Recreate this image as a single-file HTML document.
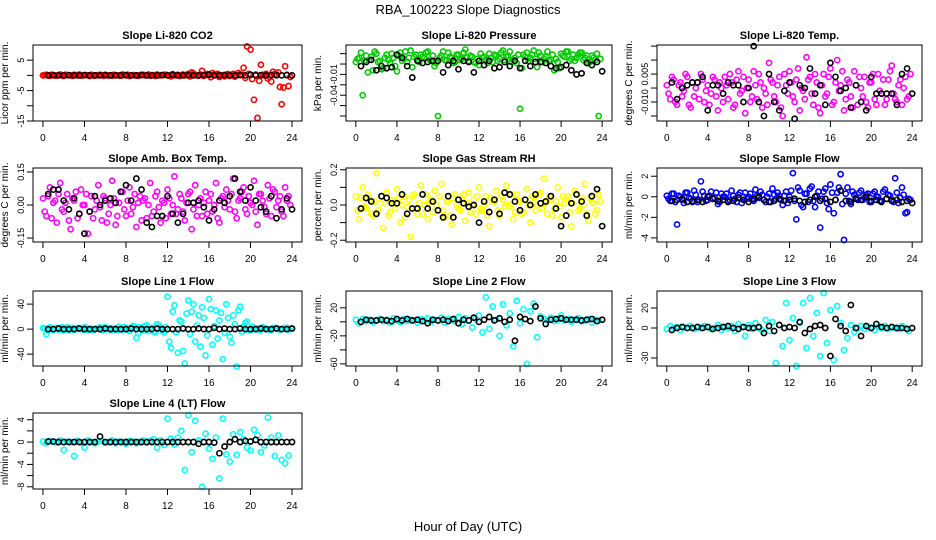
<!DOCTYPE html>
<html><head><meta charset="utf-8"><style>
html,body{margin:0;padding:0;background:#fff}
svg{display:block;font-family:"Liberation Sans",Arial,sans-serif}
</style></head><body>
<svg id="chart" width="936" height="540" viewBox="0 0 936 540" xmlns="http://www.w3.org/2000/svg">
<text x="468" y="14" text-anchor="middle" font-size="13">RBA_100223  Slope Diagnostics</text>
<text x="468" y="531" text-anchor="middle" font-size="13">Hour of Day (UTC)</text>
</svg>
<script>
const xTicks = [0,4,8,12,16,20,24];

const co2Color = [0,0.2,-0.1,0.1,0,0.3,-0.2,0.1,0,0.2,0,-0.1,0.1,0,0.2,-0.1,0,0.1,0.2,0,-0.1,0.1,0,0.3,0,-0.2,0.1,0,0.1,0.2,0,-0.1,0.1,0.3,0,0.2,0.1,-0.3,0,0.2,0.1,0,0.5,1,0.2,-0.1,1.5,0.3,0,0.8,0.2,-0.5,0.1,0.3,-0.2,0.5,0,0.3,2.5,9.5,8.5,-8,-14,3.5,0,-1,-2,0.5,1,-9.5,3,-3.5];
const co2Color2 = [0.1,0,0.2,-0.1,0.1,0,0.2,0,-0.1,0.1,0.3,0,0.1,-0.2,0,0.1,0.2,-0.1,0,0.1,0.2,0,-0.1,0.1,0.2,0,0.1,-0.1,0.2,0,0.3,0.1,-0.2,0,0.1,0.2,-0.1,0.4,0,-0.2,0.3,0.1,-0.3,0.6,0,0.3,-0.2,0.4,-0.6,0.2,0.5,0,-0.3,0.4,0.1,-0.4,0.8,0.2,-0.8,0.5,-1.2,0.3,-1.8,0.2,0.5,-0.5,1.2,0.3,-3.8,-4,0.2,-0.5];
const co2Black = [0,0.1,0,0,0.1,0,0,0.1,0,0,0,0.1,0,0,0,0.1,0,0,0.1,0,0,0,0.1,0,0.2,0,0,0.1,0,0,0.1,0.3,0,0,0.1,0,0,0.1,0,0.2,0,0.1,0,0.1,0,0,0.1,0];

const presColor = [0.002,0.006,-0.03,0.008,0.004,-0.006,0.01,0.003,-0.004,0.009,0.001,0.006,-0.007,0.011,0.005,0.002,0.013,0.007,0.004,0.009,0.006,0.012,0.003,-0.002,-0.05,0.008,0.004,0.011,0.006,0.002,0.009,0.005,0.014,0.003,0.007,0.001,-0.001,0.006,0.004,0.01,0.002,0.008,0.005,0.013,0.007,0.012,0.004,0.001,-0.043,0.009,0.011,0.006,0.013,-0.003,0.008,0.005,0.012,0.004,-0.006,0.002,0.01,0.007,0.012,0.005,0.003,0.009,0.011,0.006,0.001,0.008,0.004,-0.05];
const presColor2 = [0.005,0.011,0.003,-0.008,0.007,0.012,0.002,-0.005,0.006,0.004,0.01,-0.002,0.008,0.003,0.012,0.006,-0.003,0.009,0.002,0.007,0.011,0.004,0.008,0.001,0.006,0.012,0.003,0.007,0.001,0.009,0.004,0.011,0.006,0.008,0.002,0.005,0.01,0.007,0.001,0.006,0.009,0.003,0.011,0.004,0.008,0.002,0.006,0.009,-0.004,0.007,0.003,0.009,0.005,0.011,0.002,0.007,0.003,0.009,0.005,-0.004,0.008,0.012,0.003,0.009,0.006,0.011,0.004,0.008,0.002,0.006,0.01,0.005];
const presBlack = [-0.002,0.002,0.004,-0.006,-0.002,-0.004,-0.003,0.009,0.006,-0.002,-0.013,0.003,0.001,0.002,0.003,0.003,-0.008,-0.001,0.003,-0.005,0.003,0.002,-0.008,0.003,-0.001,0.003,-0.004,-0.003,0.002,-0.002,0.003,-0.004,0.003,-0.002,0.002,0.002,0.001,-0.002,-0.004,-0.003,-0.001,-0.006,-0.01,-0.009,0.001,-0.001,0.002,-0.007];

const tempColor = [0.001,-0.004,0.003,-0.006,0.002,-0.001,0.004,-0.007,-0.003,0.002,0.005,-0.005,0.001,-0.002,0.003,-0.008,0.000,0.004,-0.004,0.002,-0.006,0.006,-0.001,-0.009,0.003,-0.003,0.001,0.005,-0.007,-0.002,0.009,0.002,-0.005,0.004,-0.010,0.001,0.006,-0.003,0.003,-0.008,-0.001,0.011,0.004,-0.006,0.002,-0.009,0.005,-0.002,0.007,-0.005,0.010,0.001,-0.008,0.003,-0.003,0.006,-0.006,0.000,0.004,-0.007,0.002,-0.004,0.005,-0.002,-0.006,0.003,0.008,-0.004,0.001,-0.006,0.004,-0.003];
const tempColor2 = [-0.002,0.004,-0.005,0.001,-0.003,0.005,-0.006,0.002,0.000,-0.004,0.003,-0.001,-0.006,0.004,-0.003,0.002,-0.005,0.001,0.005,-0.007,0.003,-0.002,0.004,0.000,-0.005,0.006,-0.004,0.002,0.000,-0.006,0.003,-0.003,0.001,-0.007,0.005,-0.002,0.002,-0.005,0.007,0.000,-0.004,0.003,-0.002,0.005,-0.007,0.001,-0.003,0.004,-0.006,0.002,-0.001,0.006,-0.004,0.002,-0.007,0.001,0.004,-0.003,-0.005,0.002,0.005,-0.006,-0.001,0.003,-0.004,0.006,-0.002,-0.005,0.003,0.000,-0.004,0.005];
const tempBlack = [0.002,-0.004,0.000,0.001,0.002,0.002,0.004,-0.008,0.001,0.001,-0.002,0.002,0.001,0.001,-0.005,0.000,0.015,-0.005,-0.010,0.005,-0.005,-0.008,-0.001,0.002,-0.011,0.001,0.000,0.007,-0.002,0.001,-0.006,0.009,0.004,-0.001,0.000,-0.007,0.001,-0.005,-0.008,0.004,-0.002,-0.002,-0.002,-0.002,-0.006,0.005,0.007,-0.002];

const ambColor = [0.03,-0.05,0.08,0.01,-0.08,0.10,-0.03,0.05,-0.11,0.02,-0.06,0.07,0.00,-0.13,0.04,-0.02,0.09,-0.07,0.03,-0.04,0.11,-0.09,0.01,0.06,-0.05,0.08,-0.01,-0.10,0.04,0.02,-0.06,0.10,-0.03,0.06,-0.08,0.01,0.07,-0.04,0.13,-0.02,0.03,-0.07,0.05,-0.11,0.09,0.00,-0.05,0.06,0.02,-0.03,0.10,-0.08,0.04,0.07,-0.02,0.12,-0.06,0.03,0.08,-0.04,0.01,0.11,-0.09,0.05,-0.01,0.09,-0.05,0.06,0.02,-0.03,0.08,0.04];
const ambColor2 = [-0.03,0.04,-0.06,0.02,0.05,-0.02,0.01,-0.07,0.03,0.06,-0.04,0.00,0.05,-0.03,-0.06,0.02,-0.01,0.04,-0.08,0.00,0.03,-0.05,0.06,-0.02,0.02,-0.04,0.05,0.01,-0.07,0.03,0.00,-0.05,0.04,-0.01,0.02,-0.06,0.03,0.00,-0.04,0.05,-0.03,0.01,0.06,-0.02,-0.05,0.03,0.01,-0.04,0.05,0.00,-0.06,0.03,-0.01,0.02,0.05,-0.03,0.02,0.06,-0.02,0.04,0.00,-0.03,0.05,0.02,-0.04,0.03,0.07,-0.01,0.04,-0.05,0.02,0.00];
const ambBlack = [0.05,0.07,0.07,0.02,-0.02,0.03,-0.04,-0.13,-0.03,0.04,0.00,0.02,0.03,0.01,0.06,0.09,0.02,0.12,0.07,-0.08,-0.10,-0.05,-0.05,0.04,-0.04,-0.08,-0.04,0.01,0.01,0.02,-0.01,-0.07,-0.02,0.02,0.01,0.04,0.12,0.06,0.02,0.08,0.02,-0.01,-0.03,0.04,-0.06,-0.02,0.03,-0.02];

const rhColor = [0.05,-0.08,0.10,-0.02,0.03,-0.06,0.18,0.01,-0.13,0.07,-0.04,0.02,0.09,-0.10,0.05,-0.01,-0.18,0.06,-0.05,0.11,0.00,-0.08,0.03,0.08,-0.03,0.12,-0.07,0.02,-0.11,0.06,-0.02,0.04,-0.09,0.07,0.00,-0.05,0.10,-0.03,0.05,-0.12,0.02,0.08,-0.06,0.03,0.11,-0.01,-0.08,0.06,0.02,-0.04,0.09,-0.10,0.04,0.00,0.07,0.15,-0.05,0.03,-0.02,0.10,-0.07,0.01,0.05,-0.12,0.08,-0.03,0.04,0.12,-0.09,0.02,-0.05,0.06];
const rhColor2 = [-0.03,0.04,-0.01,0.06,-0.05,0.02,-0.03,0.05,0.01,-0.06,0.03,-0.02,0.04,0.00,-0.07,0.03,0.05,-0.02,0.01,-0.05,0.06,0.02,-0.04,0.00,0.05,-0.03,0.02,-0.06,0.04,0.00,-0.03,0.06,0.01,-0.04,0.03,0.05,-0.02,0.00,-0.06,0.04,0.02,-0.03,0.05,-0.01,0.00,0.06,-0.04,0.02,-0.05,0.03,0.00,0.05,-0.03,0.06,-0.02,0.01,0.04,-0.06,0.02,-0.01,0.05,0.03,-0.04,0.01,0.06,-0.02,0.00,-0.05,0.04,0.01,-0.03,0.02];
const rhBlack = [-0.02,0.04,0.02,-0.05,0.05,0.04,0.01,0.01,0.06,-0.05,-0.02,-0.02,0.06,-0.02,0.02,-0.03,-0.07,0.05,-0.07,0.03,0.01,-0.01,0.00,-0.10,0.02,-0.04,0.03,-0.05,0.07,0.06,0.02,-0.03,0.03,0.00,0.06,0.01,0.02,0.05,-0.02,-0.12,-0.06,0.01,0.06,0.02,-0.06,0.05,0.09,-0.12];

const sfColor = [0.1,-0.4,0.3,-2.7,0.0,-0.6,0.4,-0.2,0.6,-0.5,1.5,0.1,-0.3,0.5,-0.1,-0.7,0.3,0.0,-0.4,0.6,-0.2,0.2,-0.6,0.4,0.0,-0.3,0.7,-0.1,0.2,-0.5,0.3,0.8,-0.2,0.1,-0.8,0.5,0.0,2.3,-2.2,0.6,-1.0,0.3,0.8,-0.4,0.1,-3.0,0.5,-0.6,1.2,-1.6,0.4,2.2,-4.2,0.9,-0.7,0.2,-0.3,0.6,-0.1,0.3,-0.5,0.5,0.0,-0.4,0.7,0.2,-0.3,1.8,-0.6,0.9,-1.6,-0.2];
const sfColor2 = [-0.2,0.3,-0.5,0.1,-0.3,0.4,-0.1,-0.5,0.2,-0.3,0.5,-0.4,0.1,-0.2,0.4,-0.5,0.0,0.3,-0.3,0.1,-0.5,0.4,0.0,-0.2,0.3,-0.4,0.1,0.5,-0.3,0.0,-0.5,0.2,0.4,-0.3,0.1,-0.6,0.6,-0.4,0.9,-0.8,0.3,-0.5,1.0,-1.0,0.5,-0.2,0.8,-1.2,0.4,-0.3,0.9,-0.7,0.3,-0.4,0.5,-0.1,0.4,-0.3,0.2,-0.5,0.3,0.0,-0.4,0.5,-0.2,0.1,-0.5,0.4,-0.1,0.2,-1.5,-0.3];
const sfBlack = [-0.4,-0.3,-0.2,-0.5,-0.4,-0.3,-0.5,0.0,-0.2,-0.4,-0.3,-0.5,-0.4,-0.1,-0.3,-0.5,-0.2,0.0,-0.3,-0.5,-0.4,-0.2,-0.4,-0.3,-0.2,-0.4,-0.5,-0.3,0.0,-0.4,-0.2,-0.5,-0.3,0.6,-0.4,-0.5,-0.2,-0.3,0.0,-0.4,-0.3,-0.5,-0.2,-0.4,-0.3,-0.5,-0.4,-0.6];

const l1Color = [2,-8,3,-1,2,0,-2,3,1,-1,2,0,3,-2,1,0,2,-1,3,0,-2,1,4,-1,2,-3,5,-14,3,-2,6,1,-4,8,2,-5,52,-30,38,-38,12,-55,46,28,-20,22,35,-42,48,-25,30,14,-48,40,-12,22,-60,36,4,12,-2,2,1,-1,2,0,-1,2,1,0,2,-1];
const l1Color2 = [1,-2,2,0,-1,3,1,-2,2,0,1,-1,2,0,-2,1,3,-1,0,2,1,-2,0,3,-1,2,4,-6,1,5,-3,2,-5,6,-2,3,-20,28,-5,14,-35,25,-8,40,6,-28,18,-10,32,5,-15,26,-6,18,-22,8,30,-4,10,-2,4,1,-2,3,0,-1,2,1,-1,0,2,1];
const l1Black = [0,0,1,0,0,0,1,0,0,0,0,1,0,0,0,0,1,0,0,0,0,1,0,0,0,0,1,0,0,1,0,0,2,0,1,0,0,1,0,0,0,1,0,0,1,0,0,1];

const l2Color = [3,-2,4,1,3,0,2,4,1,3,-1,5,2,0,4,1,3,2,-1,4,2,5,0,3,2,6,-1,4,3,1,7,-3,5,2,-8,4,9,-15,35,-10,22,3,-20,25,-5,12,-35,30,-2,18,-60,15,26,-22,8,4,2,6,1,3,9,2,4,0,3,5,1,2,4,-1,3,2];
const l2Black = [0,3,2,2,3,2,1,4,2,4,2,3,1,-2,3,2,3,1,4,-2,3,2,6,0,3,7,2,5,0,3,-27,7,4,1,22,5,-3,3,4,5,3,3,3,2,3,4,1,3];

const l3Color = [-1,2,0,1,-2,1,0,2,-1,1,0,2,1,-1,0,3,-2,1,0,2,-3,4,1,-8,3,-1,5,0,-2,8,-3,6,-35,3,-18,25,-12,10,-38,5,25,-20,30,-8,15,-28,35,-15,18,-32,22,5,-22,-10,3,-4,0,2,-1,1,0,-2,1,0,2,-1,1,0,-1,2,0,-3];
const l3Black = [-2,0,1,0,0,1,0,1,-1,0,1,2,0,-1,1,0,0,1,-5,2,-3,3,0,1,0,6,-5,-1,2,3,0,-28,9,2,-3,23,0,-8,2,0,4,1,0,1,0,0,-1,0];

const l4Color = [0.1,-0.2,0.2,0.0,-0.1,0.3,-1.4,0.1,0.0,-2.5,0.2,-0.1,-1.0,0.3,0.0,-0.2,0.1,0.2,-0.1,0.0,0.3,-0.2,0.1,0.0,-0.3,0.2,0.1,-0.2,0.0,0.3,-0.1,0.2,0.5,-1.0,0.3,-0.5,4.2,0.6,-0.4,0.8,2.0,-5.0,4.8,-1.8,3.8,0.3,-8.0,1.5,-1.2,-3.0,0.8,-6.5,4.2,-2.2,-3.5,1.4,-2.3,1.8,0.5,-1.0,-1.5,2.2,1.2,-1.8,-0.6,4.4,0.8,-2.5,1.2,-3.2,-3.8,-2.4];
const l4Black = [0.1,0.1,0,0,0,0,0,0,0,0,1.0,0,0,0,0,0,0,0,0,0,0,0,0,0,0,0,0,0,0,-0.3,0,0,-0.1,-2.0,-0.8,0,0.5,0,0.2,0.1,0.4,0,0,0,0,0,0,0];

const panels = [
 {name:"co2",title:"Slope Li-820 CO2",ylab:"Licor ppm per min.",col:"#ff0000",c:[co2Color,co2Color2],b:co2Black,x0:33,x1:302,y0:45,y1:121,ymin:-15,ymax:10,ticks:[5,0,-5,-10,-15],labels:["5","","-5","","-15"]},
 {name:"pressure",title:"Slope Li-820 Pressure",ylab:"kPa per min.",col:"#00cc00",c:[presColor,presColor2],b:presBlack,x0:346,x1:612,y0:45,y1:121,ymin:-0.0548,ymax:0.0183,ticks:[0.01,0,-0.01,-0.02,-0.03,-0.04,-0.05],labels:["","","-0.01","","-0.04","",""]},
 {name:"temp",title:"Slope Li-820 Temp.",ylab:"degrees C per min.",col:"#ff00ff",c:[tempColor,tempColor2],b:tempBlack,x0:657,x1:922,y0:45,y1:121,ymin:-0.0118,ymax:0.0154,ticks:[0.015,0.01,0.005,0,-0.005,-0.01],labels:["","","0.005","","-0.010",""]},
 {name:"amb-box-temp",title:"Slope Amb. Box Temp.",ylab:"degrees C per min.",col:"#ff00ff",c:[ambColor,ambColor2],b:ambBlack,x0:33,x1:302,y0:168,y1:242,ymin:-0.168,ymax:0.168,ticks:[0.15,0,-0.15],labels:["0.15","0.00","-0.15"]},
 {name:"gas-stream-rh",title:"Slope Gas Stream RH",ylab:"percent per min.",col:"#ffff00",c:[rhColor,rhColor2],b:rhBlack,x0:346,x1:612,y0:168,y1:242,ymin:-0.21,ymax:0.21,ticks:[0.2,0.1,0,-0.1,-0.2],labels:["0.2","","0.0","","-0.2"]},
 {name:"sample-flow",title:"Slope Sample Flow",ylab:"ml/min per min.",col:"#0000ff",c:[sfColor,sfColor2],b:sfBlack,x0:657,x1:922,y0:168,y1:242,ymin:-4.4,ymax:2.8,ticks:[2,0,-2,-4],labels:["2","0","-2","-4"]},
 {name:"line1-flow",title:"Slope Line 1 Flow",ylab:"ml/min per min.",col:"#00ffff",c:[l1Color,l1Color2],b:l1Black,x0:33,x1:302,y0:291,y1:366,ymin:-59,ymax:61,ticks:[40,0,-40],labels:["40","0","-40"]},
 {name:"line2-flow",title:"Slope Line 2 Flow",ylab:"ml/min per min.",col:"#00ffff",c:[l2Color],b:l2Black,x0:346,x1:612,y0:291,y1:366,ymin:-63,ymax:44,ticks:[20,0,-20,-40,-60],labels:["20","","-20","","-60"]},
 {name:"line3-flow",title:"Slope Line 3 Flow",ylab:"ml/min per min.",col:"#00ffff",c:[l3Color],b:l3Black,x0:657,x1:922,y0:291,y1:366,ymin:-38,ymax:37,ticks:[20,0,-30],labels:["20","0","-30"]},
 {name:"line4-flow",title:"Slope Line 4 (LT) Flow",ylab:"ml/min per min.",col:"#00ffff",c:[l4Color],b:l4Black,x0:33,x1:302,y0:413,y1:489,ymin:-8.4,ymax:5.2,ticks:[4,2,0,-2,-4,-6,-8],labels:["4","","0","","-4","","-8"]}
];

const NS="http://www.w3.org/2000/svg";
const svg=document.getElementById('chart');
function mk(tag,attrs,parent){const e=document.createElementNS(NS,tag);for(const k in attrs)e.setAttribute(k,attrs[k]);(parent||svg).appendChild(e);return e;}

panels.forEach(p=>{
  const g=mk('g',{});
  
  
  const xs=h=>p.x0+(h+0.96)/25.92*(p.x1-p.x0);
  const ys=v=>p.y0+(p.ymax-v)/(p.ymax-p.ymin)*(p.y1-p.y0);
  const t=mk('text',{x:(p.x0+p.x1)/2,y:p.y0-6,'text-anchor':'middle','font-size':'11','font-weight':'bold'},g);
  t.textContent=p.title;
  
  
  const yl=mk('text',{x:0,y:0,'text-anchor':'middle','font-size':'10',transform:`translate(${p.x0-25},${(p.y0+p.y1)/2}) rotate(-90)`},g);
  yl.textContent=p.ylab;
  
  
  const dots=mk('g',{fill:'none','stroke-width':'1.6'},g);
  p.c.forEach((arr,k)=>{
    arr.forEach((v,i)=>{
      const c=mk('circle',{cx:xs((i+k*0.5)*24/arr.length),cy:ys(v),r:2.6,stroke:p.col},dots);
      
      
    });
  });
  p.b.forEach((v,i)=>{
    const c=mk('circle',{cx:xs(0.5+i*24/p.b.length),cy:ys(v),r:2.6,stroke:'#000'},dots);
    
    
  });
  const box=mk('rect',{x:p.x0,y:p.y0,width:p.x1-p.x0,height:p.y1-p.y0,fill:'none',stroke:'#000','stroke-width':'1'},g);
  
  
  const xa=mk('g',{},g);
  
  
  mk('line',{x1:xs(0),x2:xs(24),y1:p.y1,y2:p.y1,stroke:'#000'},xa);
  xTicks.forEach(h=>{
    mk('line',{x1:xs(h),x2:xs(h),y1:p.y1,y2:p.y1+6,stroke:'#000'},xa);
    const l=mk('text',{x:xs(h),y:p.y1+20,'text-anchor':'middle','font-size':'10'},xa);
    l.textContent=h;
  });
  const ya=mk('g',{},g);
  
  
  p.ticks.forEach((v,i)=>{
    mk('line',{x1:p.x0-6,x2:p.x0,y1:ys(v),y2:ys(v),stroke:'#000'},ya);
    if(p.labels[i]){
      const l=mk('text',{x:0,y:0,'text-anchor':'middle','font-size':'9',transform:`translate(${p.x0-9},${ys(v)}) rotate(-90)`},ya);
      l.textContent=p.labels[i];
    }
  });
});
</script>
</body></html>
